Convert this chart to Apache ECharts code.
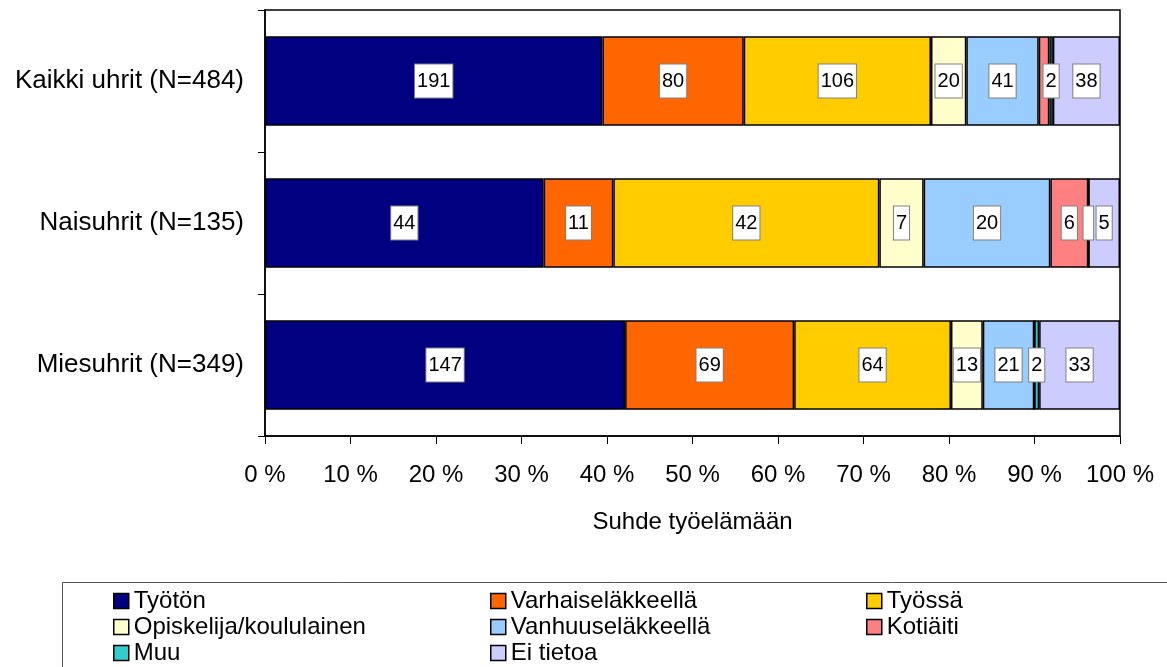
<!DOCTYPE html>
<html>
<head>
<meta charset="utf-8">
<script src="https://cdn.jsdelivr.net/npm/echarts@6/dist/echarts.min.js"></script>
<style>
  html, body { margin: 0; padding: 0; background: #fff; }
  #chart { width: 1167px; height: 667px; }
</style>
</head>
<body>
<div id="chart"></div>
<script>
// ryhmät (ylhäältä alas)
const categories = ['Kaikki uhrit (N=484)', 'Naisuhrit (N=135)', 'Miesuhrit (N=349)']
const seriesNames = ['Työtön', 'Varhaiseläkkeellä', 'Työssä', 'Opiskelija/koululainen',
  'Vanhuuseläkkeellä', 'Kotiäiti', 'Muu', 'Ei tietoa']
// lukumäärät per ryhmä
const tyoton = [191, 44, 147]
const varhais = [80, 11, 69]
const tyossa = [106, 42, 64]
const opiskelija = [20, 7, 13]
const vanhuus = [41, 20, 21]
const kotiaiti = [6, 6, 0]
const muu = [2, 0, 2]
const eiTietoa = [38, 5, 33]
const xTicks = [0, 10, 20, 30, 40, 50, 60, 70, 80, 90, 100]

const colors = ['#000080', '#ff6600', '#ffcc00', '#ffffcc', '#99ccff', '#ff8080', '#33cccc', '#ccccff']
const counts = [tyoton, varhais, tyossa, opiskelija, vanhuus, kotiaiti, muu, eiTietoa]
const totals = categories.map((c, i) => counts.reduce((s, arr) => s + arr[i], 0))

const labelBox = {
  show: true,
  position: 'inside',
  color: '#000',
  fontSize: 20,
  fontFamily: 'Liberation Sans',
  backgroundColor: '#fff',
  borderColor: '#808080',
  borderWidth: 1,
  padding: [7, 2, 6, 2],
  formatter: p => p.data.count > 0 ? String(p.data.count) : ' '
}

const series = seriesNames.map((name, si) => ({
  name: name,
  type: 'bar',
  stack: 'all',
  barWidth: '63%',
  itemStyle: { color: colors[si], borderColor: '#000', borderWidth: 1.5 },
  label: labelBox,
  data: counts[si].map((v, ci) => {
    let d = { value: v / totals[ci] * 100, count: v }
    // Kaikki: kotiäiti-merkintä peittyy, miehet: kotiäiti 0 ei näy
    if (si === 5 && (ci === 0 || ci === 2)) d.label = { show: false }
    return d
  })
}))

const legendBase = {
  orient: 'vertical',
  top: 589,
  height: 150,
  padding: 0,
  itemWidth: 15,
  itemHeight: 15,
  itemGap: 2,
  icon: 'rect',
  textStyle: { color: '#000', fontSize: 24, lineHeight: 24, fontFamily: 'Liberation Sans' },
  itemStyle: { borderColor: '#000', borderWidth: 1.5 },
  selectedMode: false
}

const chart = echarts.init(document.getElementById('chart'))
chart.setOption({
  animation: false,
  color: colors,
  textStyle: { fontFamily: 'Liberation Sans' },
  grid: {
    left: 265, right: 47, top: 10, bottom: 231,
    show: true, borderColor: '#000', borderWidth: 1.5
  },
  xAxis: {
    type: 'value',
    min: 0, max: 100, interval: 10,
    name: 'Suhde työelämään',
    nameLocation: 'middle',
    nameGap: 74,
    nameTextStyle: { color: '#000', fontSize: 24 },
    axisLine: { show: true, lineStyle: { color: '#000', width: 1.5 } },
    axisTick: { show: true, length: 8, lineStyle: { color: '#000' } },
    splitLine: { show: false },
    axisLabel: { color: '#000', fontSize: 24, margin: 27, formatter: v => xTicks.includes(v) ? v + ' %' : '' }
  },
  yAxis: {
    type: 'category',
    inverse: true,
    data: categories,
    axisLine: { show: true, lineStyle: { color: '#000', width: 1.5 } },
    axisTick: { show: true, length: 7, lineStyle: { color: '#000' } },
    axisLabel: { color: '#000', fontSize: 26, margin: 21 }
  },
  legend: [
    Object.assign({}, legendBase, { left: 113, data: ['Työtön', 'Opiskelija/koululainen', 'Muu'] }),
    Object.assign({}, legendBase, { left: 490, data: ['Varhaiseläkkeellä', 'Vanhuuseläkkeellä', 'Ei tietoa'] }),
    Object.assign({}, legendBase, { left: 866, data: ['Työssä', 'Kotiäiti'] })
  ],
  graphic: [{
    type: 'rect',
    shape: { x: 62.5, y: 582.5, width: 1130, height: 100 },
    style: { fill: 'none', stroke: '#555', lineWidth: 1 },
    z: -1
  }],
  series: series
})
</script>
</body>
</html>
